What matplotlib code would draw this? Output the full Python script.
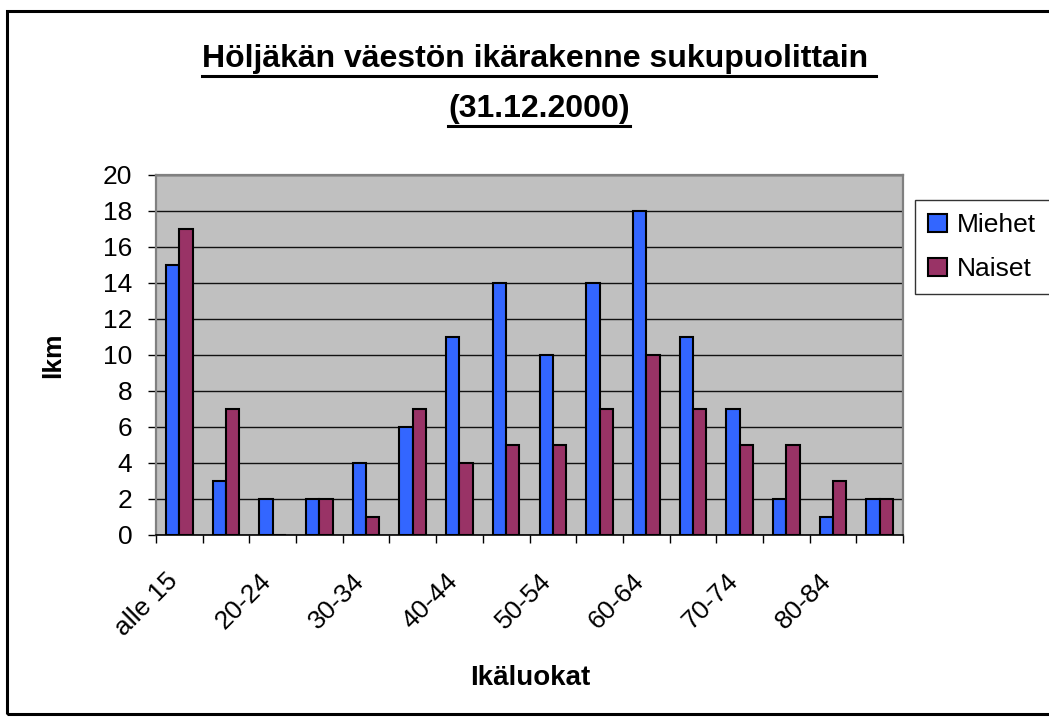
import numpy as np
import matplotlib.pyplot as plt
from matplotlib.lines import Line2D
from matplotlib.patches import Rectangle
from matplotlib.transforms import ScaledTranslation

# Ikäluokat ja lukumäärät
ikaluokat = ['alle 15', '15-19', '20-24', '25-29', '30-34', '35-39', '40-44', '45-49',
             '50-54', '55-59', '60-64', '65-69', '70-74', '75-79', '80-84', 'yli 85']
miehet = [15, 3, 2, 2, 4, 6, 11, 14, 10, 14, 18, 11, 7, 2, 1, 2]
naiset = [17, 7, 0, 2, 1, 7, 4, 5, 5, 7, 10, 7, 5, 5, 3, 2]
yticks = list(range(0, 21, 2))

plt.rcParams['font.family'] = ['Liberation Sans', 'DejaVu Sans']

W, H = 1049, 718
fig = plt.figure(figsize=(W / 100, H / 100), dpi=100)
fig.patch.set_facecolor('white')
# kehys (oikea reuna jää kuvan ulkopuolelle)
fig.add_artist(Rectangle((7 / W, 1 - 714 / H), 1060 / W, (714 - 11) / H, transform=fig.transFigure,
                         fill=False, edgecolor='black', linewidth=2.2, clip_on=False))

ax = fig.add_axes([156 / W, 1 - 535 / H, (903 - 156) / W, (535 - 175) / H])
ax.set_facecolor('#C0C0C0')

x = np.arange(len(ikaluokat))
w = 1 / 3.5
ax.bar(x - w / 2, miehet, w, color='#3366FF', edgecolor='black', linewidth=1.5, label='Miehet', zorder=3)
ax.bar(x + w / 2, naiset, w, color='#993366', edgecolor='black', linewidth=1.5, label='Naiset', zorder=3)

ax.set_xlim(-0.5, len(ikaluokat) - 0.5)
ax.set_ylim(0, 20)
ax.set_yticks(yticks)
ax.yaxis.grid(True, color='#111111', linewidth=1, zorder=1)
ax.set_axisbelow(True)

ax.set_xticks(x[::2])
ax.set_xticklabels(ikaluokat[::2], rotation=45, ha='right', va='top', rotation_mode='anchor')
ax.set_xticks(np.arange(-0.5, len(ikaluokat)), minor=True)
ax.tick_params(axis='x', which='major', length=0, pad=24.5, labelsize=19)
ax.tick_params(axis='x', which='minor', length=6, width=1, color='black', direction='out')
ax.tick_params(axis='y', length=6, width=1, direction='out', labelsize=19, pad=11)
siirto = ScaledTranslation(-14 / 100, 0, fig.dpi_scale_trans)
for lab in ax.get_xticklabels():
    lab.set_transform(lab.get_transform() + siirto)

for s in ['top', 'right', 'left']:
    ax.spines[s].set_color('#808080')
    ax.spines[s].set_linewidth(1.6)
ax.spines['bottom'].set_color('black')
ax.spines['bottom'].set_linewidth(1.2)

ax.set_ylabel('lkm', fontsize=19, fontweight='bold')
ax.yaxis.label.set_verticalalignment('center')
ax.yaxis.set_label_coords((53 - 156) / 747, 0.5)
ax.set_xlabel('Ikäluokat', fontsize=20, fontweight='bold')
ax.xaxis.label.set_verticalalignment('baseline')
ax.xaxis.set_label_coords((530 - 156) / 747, (535 - 685) / 360)

leg = fig.legend(loc='upper left', bbox_to_anchor=(915 / W, 1 - 200 / H), borderaxespad=0,
                 fontsize=19, frameon=True, fancybox=False, edgecolor='black', handlelength=0.7,
                 handleheight=0.7, handletextpad=0.4, labelspacing=0.75, borderpad=0.5)
leg.get_frame().set_linewidth(1)

# otsikko alleviivattuna
t1 = fig.text(539 / W, 1 - 67 / H, 'Höljäkän väestön ikärakenne sukupuolittain ', ha='center',
              va='baseline', fontsize=23, fontweight='bold')
t2 = fig.text(539 / W, 1 - 117 / H, '(31.12.2000)', ha='center', va='baseline', fontsize=23,
              fontweight='bold')

fig.canvas.draw()
r = fig.canvas.get_renderer()
for t in (t1, t2):
    bb = t.get_window_extent(r).transformed(fig.transFigure.inverted())
    y0 = t.get_position()[1] - 9 / H
    fig.add_artist(Line2D([bb.x0, bb.x1], [y0, y0], transform=fig.transFigure, color='black', linewidth=2.2))

fig.savefig('out.png', dpi=100)
